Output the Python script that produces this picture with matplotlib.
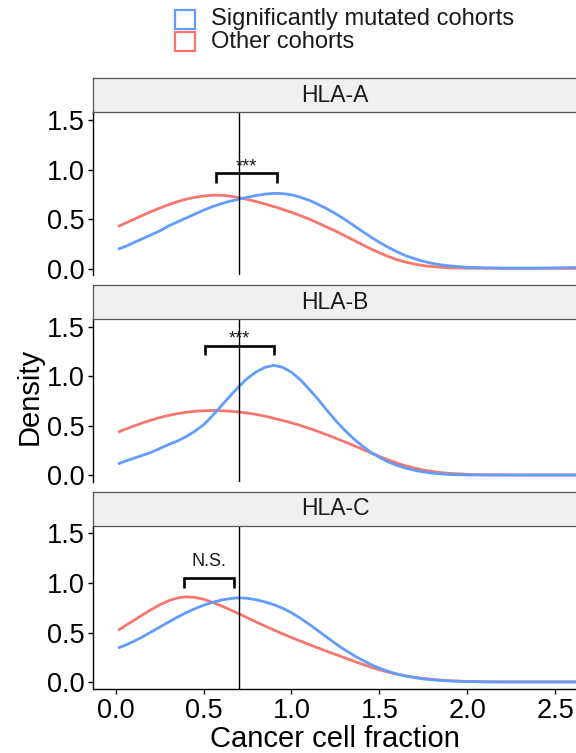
import matplotlib
matplotlib.use("Agg")
import matplotlib.pyplot as plt
from matplotlib.patches import Rectangle

plt.rcParams['font.family'] = ['Liberation Sans', 'DejaVu Sans']

# cancer cell fraction grid and density estimates per HLA gene
ccf = [0.02, 0.05, 0.10, 0.15, 0.20, 0.25, 0.30, 0.35, 0.40, 0.45,
       0.50, 0.55, 0.60, 0.65, 0.70, 0.75, 0.80, 0.85, 0.90, 0.95,
       1.00, 1.05, 1.10, 1.15, 1.20, 1.25, 1.30, 1.35, 1.40, 1.45,
       1.50, 1.55, 1.60, 1.65, 1.70, 1.75, 1.80, 1.85, 1.90, 2.00,
       2.10, 2.20, 2.40, 2.62]

hla_a_sig = [0.20, 0.22, 0.26, 0.30, 0.34, 0.38, 0.43, 0.47, 0.51, 0.55,
             0.59, 0.625, 0.655, 0.68, 0.70, 0.72, 0.738, 0.752, 0.76, 0.757,
             0.745, 0.72, 0.69, 0.65, 0.605, 0.555, 0.50, 0.44, 0.38, 0.32,
             0.265, 0.215, 0.17, 0.13, 0.10, 0.073, 0.053, 0.038, 0.027, 0.013,
             0.008, 0.005, 0.005, 0.01]
hla_a_other = [0.43, 0.455, 0.495, 0.535, 0.575, 0.61, 0.645, 0.675, 0.70, 0.72,
               0.733, 0.74, 0.74, 0.732, 0.717, 0.698, 0.676, 0.652, 0.626, 0.598,
               0.568, 0.535, 0.50, 0.46, 0.42, 0.38, 0.335, 0.29, 0.245, 0.20,
               0.16, 0.122, 0.09, 0.065, 0.045, 0.03, 0.02, 0.013, 0.008, 0.004,
               0.003, 0.002, 0.002, 0.002]

hla_b_sig = [0.12, 0.14, 0.17, 0.20, 0.23, 0.27, 0.31, 0.345, 0.39, 0.445,
             0.51, 0.60, 0.70, 0.80, 0.895, 0.98, 1.045, 1.09, 1.11, 1.09,
             1.04, 0.965, 0.87, 0.77, 0.66, 0.555, 0.46, 0.375, 0.30, 0.235,
             0.18, 0.135, 0.10, 0.072, 0.05, 0.034, 0.022, 0.014, 0.008, 0.003,
             0.002, 0.002, 0.002, 0.002]
hla_b_other = [0.44, 0.462, 0.495, 0.527, 0.556, 0.582, 0.604, 0.622, 0.636, 0.646,
               0.652, 0.654, 0.652, 0.647, 0.639, 0.628, 0.614, 0.597, 0.575, 0.553,
               0.53, 0.503, 0.474, 0.443, 0.41, 0.375, 0.34, 0.303, 0.266, 0.228,
               0.19, 0.155, 0.123, 0.095, 0.072, 0.053, 0.038, 0.027, 0.019, 0.009,
               0.005, 0.004, 0.003, 0.003]

hla_c_sig = [0.35, 0.37, 0.41, 0.455, 0.505, 0.555, 0.605, 0.655, 0.70, 0.74,
             0.775, 0.805, 0.827, 0.842, 0.85, 0.845, 0.83, 0.808, 0.78, 0.745,
             0.70, 0.645, 0.585, 0.52, 0.455, 0.39, 0.33, 0.275, 0.225, 0.18,
             0.142, 0.11, 0.083, 0.062, 0.046, 0.034, 0.025, 0.018, 0.013, 0.006,
             0.004, 0.003, 0.003, 0.003]
hla_c_other = [0.53, 0.565, 0.62, 0.675, 0.73, 0.78, 0.82, 0.848, 0.86, 0.855,
               0.835, 0.805, 0.77, 0.73, 0.69, 0.648, 0.606, 0.565, 0.525, 0.487,
               0.45, 0.415, 0.38, 0.346, 0.313, 0.28, 0.248, 0.215, 0.183, 0.153,
               0.126, 0.102, 0.082, 0.065, 0.051, 0.039, 0.029, 0.021, 0.015, 0.008,
               0.005, 0.004, 0.004, 0.004]

genes = ['HLA-A', 'HLA-B', 'HLA-C']
sig_curves = [hla_a_sig, hla_b_sig, hla_c_sig]
other_curves = [hla_a_other, hla_b_other, hla_c_other]
significance = ['***', '***', 'N.S.']
ccf_cutoff = 0.70

# bracket: left x, right x, bar height, label baseline
brackets = [(0.57, 0.92, 0.96, 0.985),
            (0.51, 0.90, 1.31, 1.335),
            (0.39, 0.675, 1.05, 1.175)]

BLUE = '#619CFF'
RED = '#F8766D'

W, H = 576, 753
fig = plt.figure(figsize=(W / 100, H / 100), dpi=100)


def rect(left, top, right, bottom):
    return [left / W, 1 - bottom / H, (right - left) / W, (bottom - top) / H]


panel_px = [(112.3, 275.0), (319.0, 481.7), (525.5, 688.7)]
strip_h = 34.0
x_left, x_right = 93.3, 577.0

for i, gene in enumerate(genes):
    top, bottom = panel_px[i]
    ax = fig.add_axes(rect(x_left, top, x_right, bottom))
    ax.plot(ccf, other_curves[i], color=RED, lw=2.0, solid_joinstyle='round')
    ax.plot(ccf, sig_curves[i], color=BLUE, lw=2.0, solid_joinstyle='round')
    ax.axvline(ccf_cutoff, color='black', lw=1.0)

    x0, x1, yb, yt = brackets[i]
    ax.plot([x0, x0, x1, x1], [yb - 0.1, yb, yb, yb - 0.1], color='black',
            lw=1.9, solid_joinstyle='miter', solid_capstyle='butt')
    ax.text((x0 + x1) / 2, yt, significance[i], ha='center', va='baseline',
            fontsize=13, color='#1A1A1A')

    ax.set_xlim(-0.128, 2.625)
    ax.set_ylim(-0.065, 1.578)
    ax.set_yticks([0.0, 0.5, 1.0, 1.5])
    ax.set_yticklabels(['0.0', '0.5', '1.0', '1.5'])
    ax.tick_params(axis='y', labelsize=19.5, length=3.5, width=1.0,
                   pad=3, colors='black')
    for s in ['top', 'right']:
        ax.spines[s].set_visible(False)
    ax.spines['left'].set_linewidth(1.0)
    if i < 2:
        ax.spines['bottom'].set_visible(False)
        ax.set_xticks([])
    else:
        ax.spines['bottom'].set_linewidth(1.0)
        ax.set_xticks([0.0, 0.5, 1.0, 1.5, 2.0, 2.5])
        ax.set_xticklabels(['0.0', '0.5', '1.0', '1.5', '2.0', '2.5'])
        ax.tick_params(axis='x', labelsize=19.5, length=3.5, width=1.0,
                       pad=3, colors='black')

    # facet strip
    sax = fig.add_axes(rect(x_left, top - strip_h, x_right, top))
    sax.set_facecolor('#F0F0F0')
    sax.set_xticks([])
    sax.set_yticks([])
    for s in sax.spines.values():
        s.set_color('#555555')
        s.set_linewidth(0.9)
    sax.text(0.5, 0.5, gene, transform=sax.transAxes, ha='center',
             va='center', fontsize=16.5, color='#1A1A1A')

fig.text(30 / W, 1 - 396 / H, 'Density', rotation=90, ha='center',
         va='center', fontsize=21)
fig.text(335 / W, 1 - 739 / H, 'Cancer cell fraction', ha='center',
         va='center', fontsize=21)

# legend
legend_items = [('Significantly mutated cohorts', BLUE, 10.0),
                ('Other cohorts', RED, 32.0)]
for label, color, ytop in legend_items:
    fig.add_artist(Rectangle((175 / W, 1 - (ytop + 19) / H), 20 / W, 19 / H,
                             transform=fig.transFigure, facecolor='white',
                             edgecolor=color, lw=1.6))
    fig.text(211 / W, 1 - (ytop + 9.5) / H, label, ha='left', va='center',
             fontsize=17, color='#1A1A1A')

fig.savefig('out.png', dpi=100)
